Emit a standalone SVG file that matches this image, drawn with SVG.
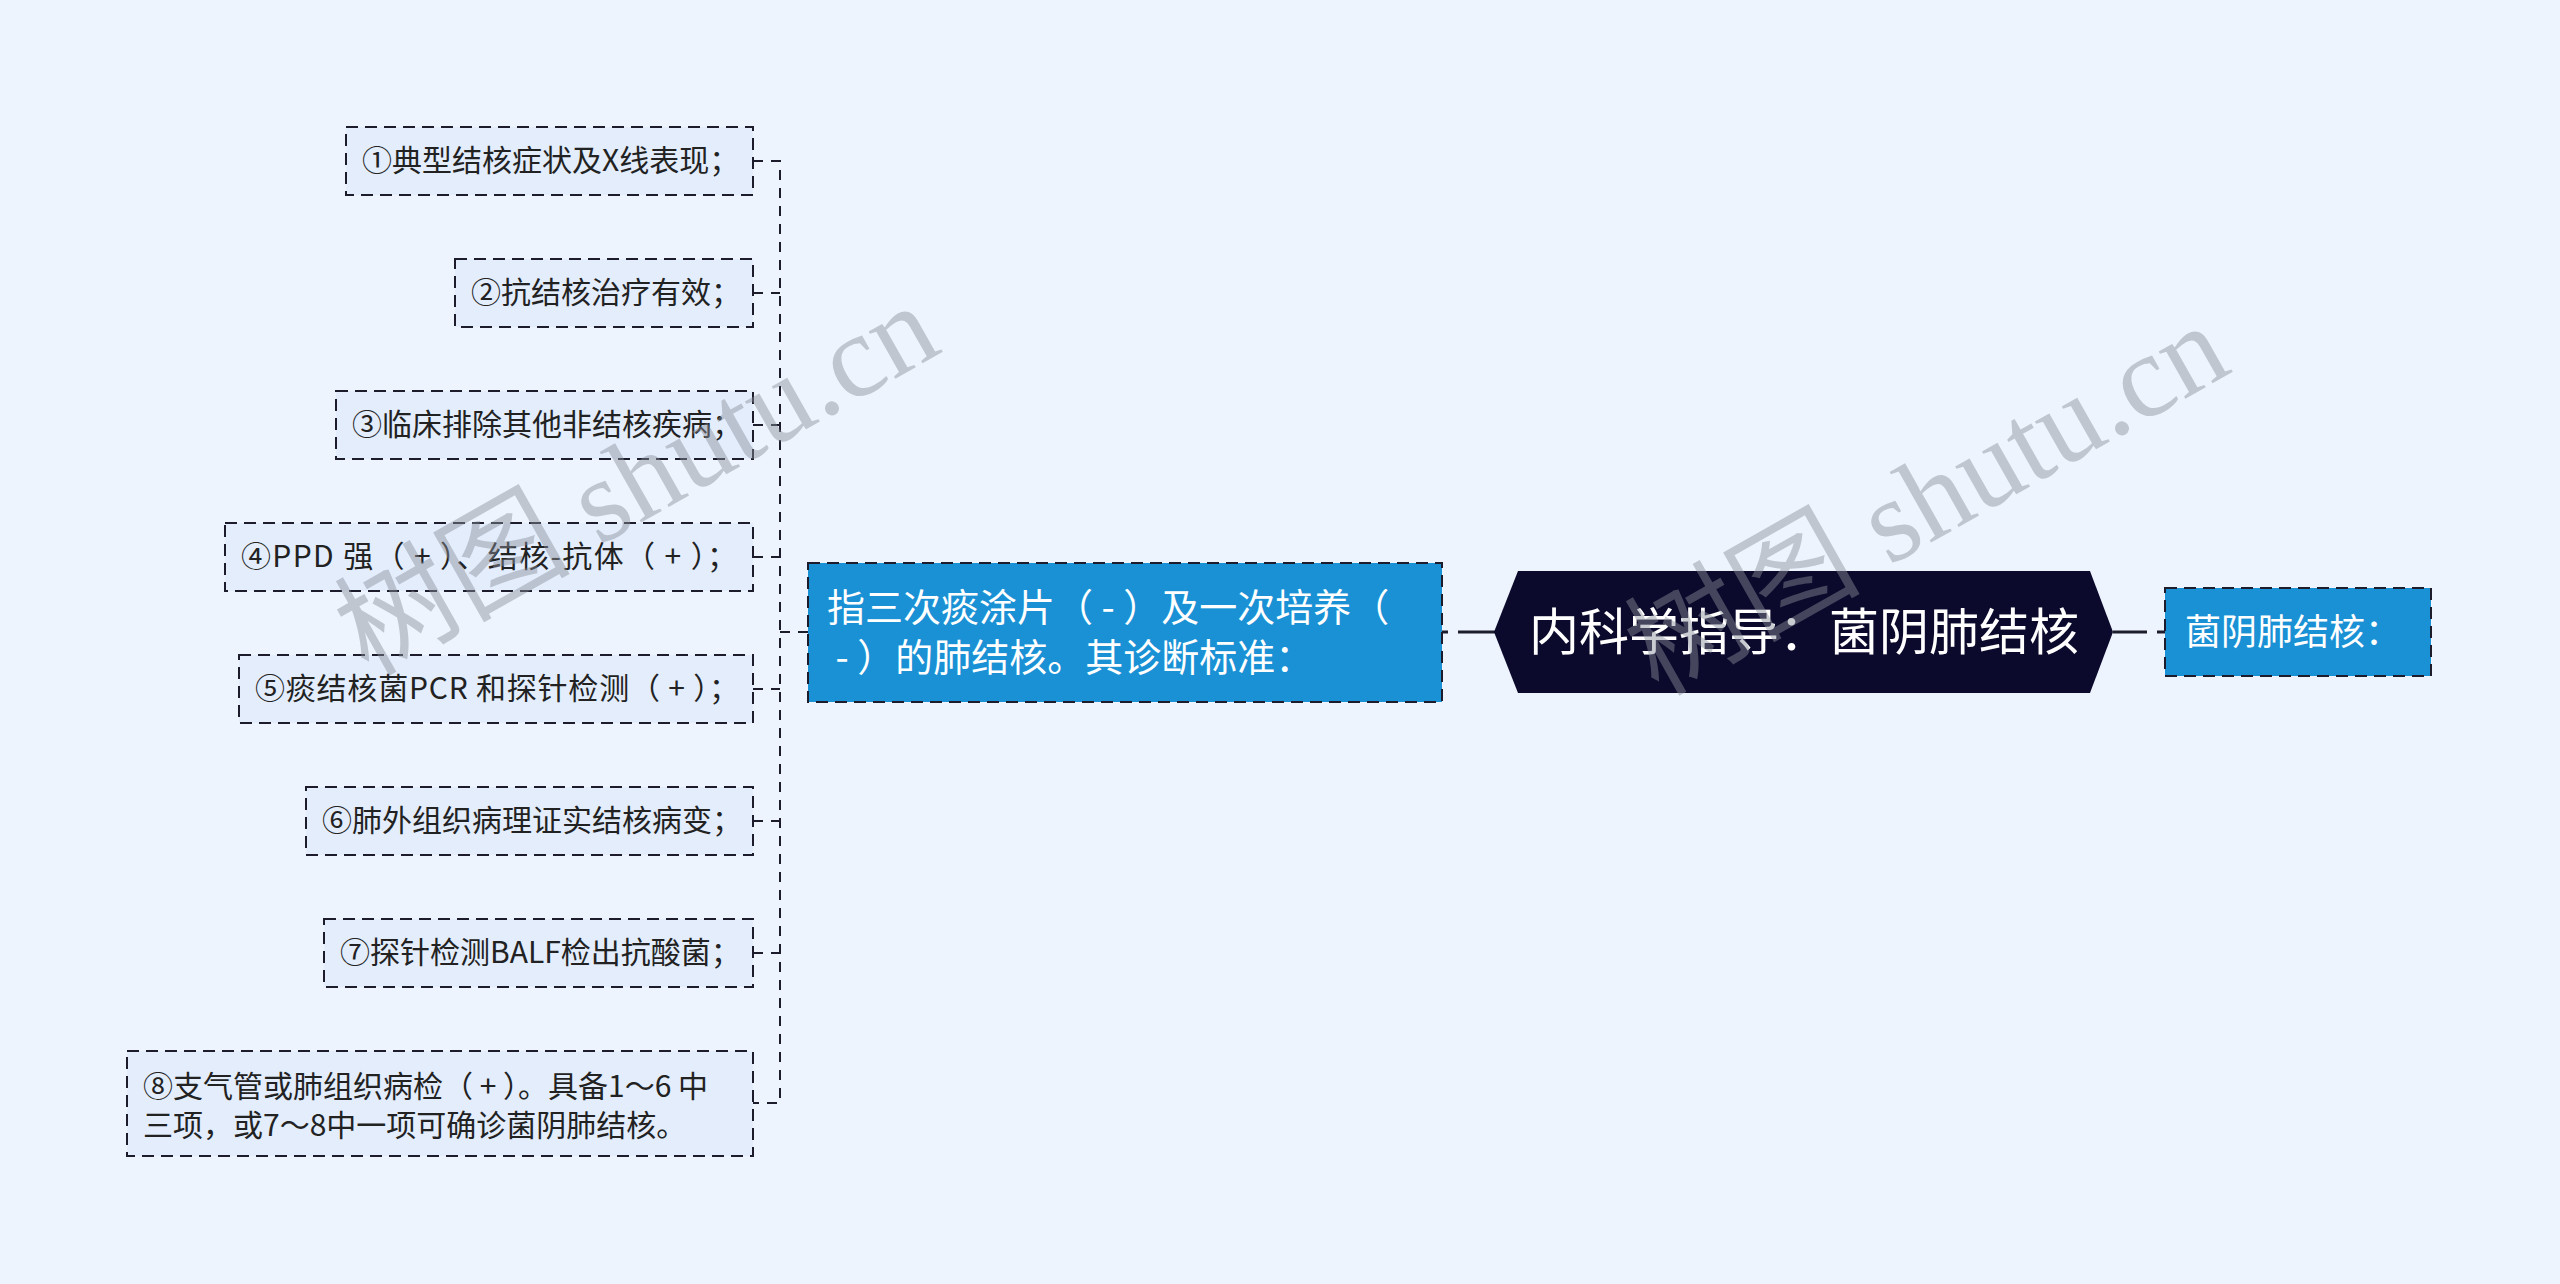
<svg xmlns="http://www.w3.org/2000/svg" width="2560" height="1284" viewBox="0 0 2560 1284">
<style>
.bg{fill:#eef4fe}
.item{fill:#e3edfc;stroke:#1c1c2c;stroke-width:2;stroke-dasharray:12 7}
.blue{fill:#1a91d5;stroke:#1c1c2c;stroke-width:2;stroke-dasharray:12 7}
.hex{fill:#0c0a2c}
.t{font-family:"Noto Sans CJK SC","Microsoft YaHei",sans-serif;fill:#222}
.ti{font-size:30px}
.tw{fill:#ffffff}
.con{fill:none;stroke:#1c1c2c;stroke-width:2;stroke-dasharray:10 8}
.main{fill:none;stroke:#1c1c2c;stroke-width:3}
.wm{font-family:"Liberation Serif","Noto Sans CJK SC",serif;font-size:118px;fill:#8a8f9a;opacity:0.45}
</style>
<rect class="bg" x="0" y="0" width="2560" height="1284"/>
<g id="connectors">
  <path class="main" d="M1442 632 H1496" stroke-dasharray="6 10 200"/>
  <path class="main" d="M2165 632 H2113" stroke-dasharray="8 10 200"/>
  <path class="con" d="M753 161 H780 V1103 H753"/>
  <path class="con" d="M780 632 H808"/>
  <path class="con" d="M753 293 H780"/>
  <path class="con" d="M753 425 H780"/>
  <path class="con" d="M753 557 H780"/>
  <path class="con" d="M753 689 H780"/>
  <path class="con" d="M753 821 H780"/>
  <path class="con" d="M753 953 H780"/>
</g>
<g id="root">
  <polygon class="hex" points="1494,632 1518,571 2090,571 2113,632 2090,693 1518,693"/>
  <text class="t tw" x="1804" y="650" font-size="50" text-anchor="middle">内科学指导：菌阴肺结核</text>
</g>
<g id="right-node">
  <rect class="blue" x="2165" y="588" width="266" height="88"/>
  <text class="t tw" x="2185" y="645" font-size="36">菌阴肺结核：</text>
</g>
<g id="middle-node">
  <rect class="blue" x="808" y="563" width="634" height="139"/>
  <text class="t tw" x="827" y="621" font-size="38" xml:space="preserve">指三次痰涂片（ - ）及一次培养（</text>
  <text class="t tw" x="827" y="671" font-size="38" xml:space="preserve"> - ）的肺结核。其诊断标准：</text>
</g>
<g id="item1">
  <rect class="item" x="346" y="127" width="407" height="68"/>
  <text class="t ti" x="362" y="171">①典型结核症状及X线表现；</text>
</g>
<g id="item2">
  <rect class="item" x="455" y="259" width="298" height="68"/>
  <text class="t ti" x="471" y="303">②抗结核治疗有效；</text>
</g>
<g id="item3">
  <rect class="item" x="336" y="391" width="417" height="68"/>
  <text class="t ti" x="352" y="435">③临床排除其他非结核疾病；</text>
</g>
<g id="item4">
  <rect class="item" x="225" y="523" width="528" height="68"/>
  <text class="t ti" x="241" y="567" textLength="496" lengthAdjust="spacing">④PPD 强（ + ）、结核-抗体（ + ）；</text>
</g>
<g id="item5">
  <rect class="item" x="239" y="655" width="514" height="68"/>
  <text class="t ti" x="255" y="699" textLength="484" lengthAdjust="spacing">⑤痰结核菌PCR 和探针检测（ + ）；</text>
</g>
<g id="item6">
  <rect class="item" x="306" y="787" width="447" height="68"/>
  <text class="t ti" x="322" y="831">⑥肺外组织病理证实结核病变；</text>
</g>
<g id="item7">
  <rect class="item" x="324" y="919" width="429" height="68"/>
  <text class="t ti" x="340" y="963">⑦探针检测BALF检出抗酸菌；</text>
</g>
<g id="item8">
  <rect class="item" x="127" y="1051" width="626" height="105"/>
  <text class="t ti" x="143" y="1097">⑧支气管或肺组织病检（ + ）。具备1～6 中</text>
  <text class="t ti" x="143" y="1136">三项，或7～8中一项可确诊菌阴肺结核。</text>
</g>
<g id="watermarks">
  <text class="wm" x="368" y="677" transform="rotate(-29.5 368 677)">树图 shutu.cn</text>
  <text class="wm" x="1658" y="697" transform="rotate(-29.5 1658 697)">树图 shutu.cn</text>
</g>
</svg>
